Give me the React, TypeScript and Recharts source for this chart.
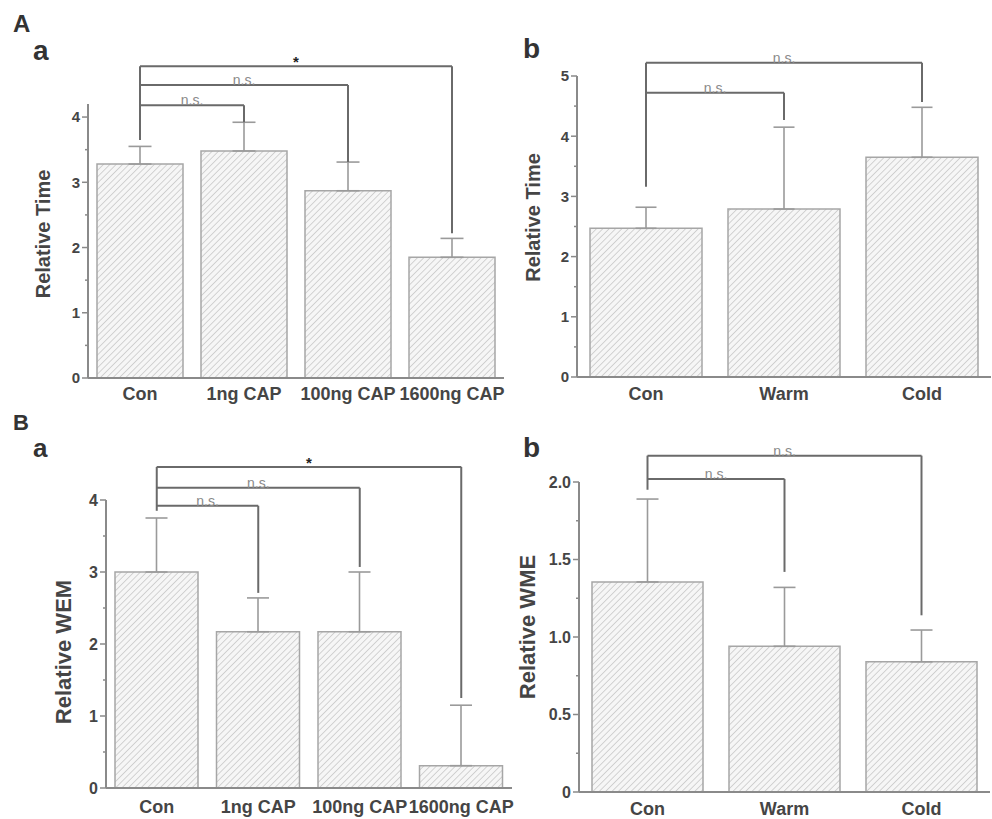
import React from "react";
import { BarChart, Bar, XAxis, YAxis, ErrorBar, ReferenceLine } from "recharts";

// ── Data ───────────────────────────────────────────────────

const CAP_GROUPS = ["Con", "1ng CAP", "100ng CAP", "1600ng CAP"];
const TEMP_GROUPS = ["Con", "Warm", "Cold"];

// A-a: relative time, CAP doses
const TIME_CAP_MEAN = [3.28, 3.48, 2.87, 1.85];
const TIME_CAP_ERR = [0.27, 0.44, 0.44, 0.29];
// A-b: relative time, temperature
const TIME_TEMP_MEAN = [2.47, 2.79, 3.65];
const TIME_TEMP_ERR = [0.35, 1.36, 0.83];
// B-a: relative WEM, CAP doses
const WEM_CAP_MEAN = [3.0, 2.17, 2.17, 0.31];
const WEM_CAP_ERR = [0.75, 0.47, 0.83, 0.84];
// B-b: relative WME, temperature
const WME_TEMP_MEAN = [1.355, 0.94, 0.84];
const WME_TEMP_ERR = [0.535, 0.38, 0.205];

// y ticks (majors get a label, the rest are minor ticks)
const TIME_CAP_TICKS = [0, 0.5, 1, 1.5, 2, 2.5, 3, 3.5, 4];
const TIME_TEMP_TICKS = [0, 0.5, 1, 1.5, 2, 2.5, 3, 3.5, 4, 4.5, 5];
const WEM_TICKS = [0, 0.5, 1, 1.5, 2, 2.5, 3, 3.5, 4];
const WME_TICKS = [0, 0.25, 0.5, 0.75, 1, 1.25, 1.5, 1.75, 2];

// significance brackets: all start from "Con"
interface Bracket {
  to: string;
  y: number;
  end: number;
  label: string;
}

const TIME_CAP_BRACKETS: Bracket[] = [
  { to: "1ng CAP", y: 4.18, end: 3.92, label: "n.s." },
  { to: "100ng CAP", y: 4.49, end: 3.31, label: "n.s." },
  { to: "1600ng CAP", y: 4.78, end: 2.22, label: "*" },
];
const TIME_TEMP_BRACKETS: Bracket[] = [
  { to: "Warm", y: 4.72, end: 4.27, label: "n.s." },
  { to: "Cold", y: 5.22, end: 4.57, label: "n.s." },
];
const WEM_CAP_BRACKETS: Bracket[] = [
  { to: "1ng CAP", y: 3.92, end: 2.71, label: "n.s." },
  { to: "100ng CAP", y: 4.17, end: 3.07, label: "n.s." },
  { to: "1600ng CAP", y: 4.46, end: 1.25, label: "*" },
];
const WME_TEMP_BRACKETS: Bracket[] = [
  { to: "Warm", y: 2.02, end: 1.42, label: "n.s." },
  { to: "Cold", y: 2.17, end: 1.14, label: "n.s." },
];

// bottom end of the shared "Con" leg
const TIME_CAP_LEG = 3.65;
const TIME_TEMP_LEG = 3.16;
const WEM_CAP_LEG = 3.85;
const WME_TEMP_LEG = 1.95;

// ── Styles ─────────────────────────────────────────────────

const FONT = "'Liberation Sans', Arial, Helvetica, sans-serif";
const TEXT = "#454545";
const AXIS = "#8a8a8a";
const BRACKET = "#6a6a6a";
const ERR = "#9a9a9a";

// ── Helpers ────────────────────────────────────────────────

function makeTick(step: number, fontSize: number, fmt: (v: number) => string) {
  return (props: any) => {
    const { x, y, payload } = props;
    const v = payload.value as number;
    const major = Math.abs(v / step - Math.round(v / step)) < 1e-6;
    return (
      <g>
        <line x1={x + (major ? 2 : 5)} x2={x + 8} y1={y} y2={y} stroke={AXIS} strokeWidth={1.5} />
        {major && (
          <text x={x} y={y} dy="0.36em" textAnchor="end" fontSize={fontSize} fontWeight="bold" fill={TEXT}>
            {fmt(v)}
          </text>
        )}
      </g>
    );
  };
}

interface PanelProps {
  id: string;
  groups: string[];
  mean: number[];
  err: number[];
  brackets: Bracket[];
  leg: number;
  yLabel: string;
  domain: [number, number];
  ticks: number[];
  step: number;
  fmt: (v: number) => string;
  box: { left: number; top: number; width: number; height: number };
  margin: { top: number; right: number; bottom: number; left: number };
  xAxisHeight: number;
  tickMargin: number;
  barSize: number;
  cap: number;
  labelDx: number;
  labelDy: number;
  labelSize: number;
  tickSize: number;
}

function Panel(p: PanelProps) {
  const data = p.groups.map((g, i) => ({ name: g, value: p.mean[i], err: [0, p.err[i]] }));
  const top = Math.max(...p.brackets.map((b) => b.y));
  const first = p.groups[0];
  return (
    <div style={{ position: "absolute", left: p.box.left, top: p.box.top }}>
      <BarChart width={p.box.width} height={p.box.height} data={data} margin={p.margin}>
        <defs>
          <pattern id={p.id} patternUnits="userSpaceOnUse" width={4.5} height={4.5} patternTransform="rotate(45)">
            <rect width={4.5} height={4.5} fill="#f6f6f6" />
            <line x1={0} y1={0} x2={0} y2={4.5} stroke="#c6c6c6" strokeWidth={1.5} />
          </pattern>
        </defs>
        <XAxis
          dataKey="name"
          height={p.xAxisHeight}
          tickLine={false}
          tickMargin={p.tickMargin}
          axisLine={{ stroke: AXIS, strokeWidth: 2 }}
          tick={{ fontSize: 18, fontWeight: "bold", fill: TEXT }}
          interval={0}
        />
        <YAxis
          width={60}
          domain={p.domain}
          ticks={p.ticks}
          interval={0}
          tickLine={false}
          axisLine={{ stroke: AXIS, strokeWidth: 2 }}
          tick={makeTick(p.step, p.tickSize, p.fmt)}
          label={{
            value: p.yLabel,
            angle: -90,
            position: "center",
            dx: p.labelDx,
            dy: p.labelDy,
            fontSize: p.labelSize,
            fontWeight: "bold",
            fill: TEXT,
          }}
        />
        <Bar dataKey="value" barSize={p.barSize} fill={`url(#${p.id})`} stroke="#a6a6a6" strokeWidth={1.5} isAnimationActive={false}>
          <ErrorBar dataKey="err" width={p.cap} stroke={ERR} strokeWidth={1.6} direction="y" isAnimationActive={false} />
        </Bar>
        {/* shared leg above Con */}
        <ReferenceLine
          segment={[{ x: first, y: top }, { x: first, y: p.leg }]}
          stroke={BRACKET}
          strokeWidth={2}
          ifOverflow="visible"
        />
        {p.brackets.map((b) => (
          <ReferenceLine
            key={b.to + "h"}
            segment={[{ x: first, y: b.y }, { x: b.to, y: b.y }]}
            stroke={BRACKET}
            strokeWidth={2}
            ifOverflow="visible"
            label={
              b.label === "*"
                ? { value: "*", position: "top", offset: -1, fontSize: 15, fontWeight: "bold", fill: "#222" }
                : { value: b.label, position: "top", offset: 0, fontSize: 14, fill: "#8a8a8a" }
            }
          />
        ))}
        {p.brackets.map((b) => (
          <ReferenceLine
            key={b.to + "v"}
            segment={[{ x: b.to, y: b.y }, { x: b.to, y: b.end }]}
            stroke={BRACKET}
            strokeWidth={2}
            ifOverflow="visible"
          />
        ))}
      </BarChart>
    </div>
  );
}

const fmtInt = (v: number) => String(v);
const fmtOne = (v: number) => (v === 0 ? "0" : v.toFixed(1));

// ── Component ──────────────────────────────────────────────

export default function App() {
  return (
    <div
      style={{
        position: "absolute",
        left: 0,
        top: 0,
        width: 992,
        height: 819,
        background: "#fff",
        overflow: "hidden",
        fontFamily: FONT,
      }}
    >
      {/* A-a */}
      <Panel
        id="hatchAa"
        groups={CAP_GROUPS}
        mean={TIME_CAP_MEAN}
        err={TIME_CAP_ERR}
        brackets={TIME_CAP_BRACKETS}
        leg={TIME_CAP_LEG}
        yLabel="Relative Time"
        domain={[0, 4.2]}
        ticks={TIME_CAP_TICKS}
        step={1}
        fmt={fmtInt}
        box={{ left: 0, top: 0, width: 520, height: 410 }}
        margin={{ top: 104, right: 16, bottom: 0, left: 28 }}
        xAxisHeight={32}
        tickMargin={3}
        barSize={86}
        cap={11.5}
        labelDx={-15}
        labelDy={-7}
        labelSize={20}
        tickSize={15}
      />
      {/* A-b */}
      <Panel
        id="hatchAb"
        groups={TEMP_GROUPS}
        mean={TIME_TEMP_MEAN}
        err={TIME_TEMP_ERR}
        brackets={TIME_TEMP_BRACKETS}
        leg={TIME_TEMP_LEG}
        yLabel="Relative Time"
        domain={[0, 5]}
        ticks={TIME_TEMP_TICKS}
        step={1}
        fmt={fmtInt}
        box={{ left: 500, top: 0, width: 492, height: 410 }}
        margin={{ top: 76, right: 1, bottom: 0, left: 17 }}
        xAxisHeight={33}
        tickMargin={4}
        barSize={112}
        cap={10.5}
        labelDx={-14}
        labelDy={-9}
        labelSize={20}
        tickSize={15}
      />
      {/* B-a */}
      <Panel
        id="hatchBa"
        groups={CAP_GROUPS}
        mean={WEM_CAP_MEAN}
        err={WEM_CAP_ERR}
        brackets={WEM_CAP_BRACKETS}
        leg={WEM_CAP_LEG}
        yLabel="Relative WEM"
        domain={[0, 4]}
        ticks={WEM_TICKS}
        step={1}
        fmt={fmtInt}
        box={{ left: 0, top: 400, width: 520, height: 419 }}
        margin={{ top: 100, right: 8, bottom: 0, left: 46 }}
        xAxisHeight={31}
        tickMargin={6}
        barSize={83}
        cap={11}
        labelDx={-13}
        labelDy={8}
        labelSize={22}
        tickSize={16}
      />
      {/* B-b */}
      <Panel
        id="hatchBb"
        groups={TEMP_GROUPS}
        mean={WME_TEMP_MEAN}
        err={WME_TEMP_ERR}
        brackets={WME_TEMP_BRACKETS}
        leg={WME_TEMP_LEG}
        yLabel="Relative WME"
        domain={[0, 2]}
        ticks={WME_TICKS}
        step={0.5}
        fmt={fmtOne}
        box={{ left: 500, top: 400, width: 492, height: 419 }}
        margin={{ top: 82, right: 2, bottom: 0, left: 19 }}
        xAxisHeight={27}
        tickMargin={4}
        barSize={111}
        cap={11}
        labelDx={-22}
        labelDy={-10}
        labelSize={22}
        tickSize={16}
      />

      {/* panel letters */}
      <svg width={992} height={819} style={{ position: "absolute", left: 0, top: 0, pointerEvents: "none" }}>
        <g fontWeight="bold" fill="#333">
          <text x={13} y={32} fontSize={24}>A</text>
          <text x={33} y={60} fontSize={28}>a</text>
          <text x={523} y={58} fontSize={28}>b</text>
          <text x={13} y={430} fontSize={22}>B</text>
          <text x={33} y={457} fontSize={26}>a</text>
          <text x={523} y={457} fontSize={28}>b</text>
        </g>
      </svg>
    </div>
  );
}
